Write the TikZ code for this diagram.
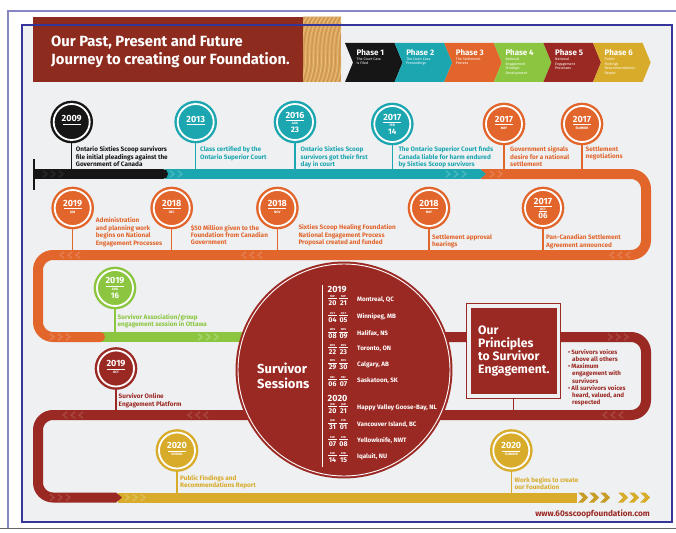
\documentclass[tikz,border=0pt]{standalone}
\usepackage{fontspec}
\setmainfont{Fira Sans}
\usetikzlibrary{calc}

\definecolor{frameblue}{HTML}{34369A}
\definecolor{pagebg}{HTML}{EEF0F2}
\definecolor{bannerred}{HTML}{8C2B1E}
\definecolor{cblack}{HTML}{161616}
\definecolor{cteal}{HTML}{1BA6B0}
\definecolor{corange}{HTML}{E2652B}
\definecolor{cgreen}{HTML}{8CC640}
\definecolor{cred}{HTML}{9B2923}
\definecolor{cgold}{HTML}{D8AB2A}
\definecolor{wood}{HTML}{D9A35B}
\definecolor{woodlight}{HTML}{E9BE7A}
\definecolor{wooddark}{HTML}{C48A45}

\tikzset{
  bar/.style={line width=10pt, rounded corners=15pt},
  ms/.style={circle, fill=#1, draw=#1, line width=2.4pt, double=white,
    double distance=1.8pt, minimum size=36pt, inner sep=0pt},
  stem/.style={draw=#1, line width=1.1pt},
  mtext/.style={anchor=north west, inner sep=0pt, align=left, text=#1,
    font=\bfseries\fontsize{6.4}{7.4}\selectfont},
  yrtext/.style={text=white, inner sep=0pt, font=\bfseries\fontsize{9}{9}\selectfont},
  motext/.style={text=white, inner sep=0pt, font=\bfseries\fontsize{3.3}{4}\selectfont},
  daytext/.style={text=white, inner sep=0pt, font=\bfseries\fontsize{8}{8}\selectfont},
  title/.style={text=white, inner sep=0pt, font=\bfseries\fontsize{14.8}{16}\selectfont},
  phtitle/.style={text=white, inner sep=0pt, font=\bfseries\fontsize{8}{8}\selectfont},
  phsub/.style={text=white, inner sep=0pt, align=left, font=\fontsize{3.6}{4.5}\selectfont},
  smo/.style={text=white, inner sep=0pt, font=\bfseries\fontsize{2.8}{3}\selectfont},
  sday/.style={text=white, inner sep=0pt, font=\bfseries\fontsize{7}{7}\selectfont},
  scity/.style={text=white, inner sep=0pt, font=\bfseries\fontsize{6.3}{6.5}\selectfont},
}

% year only, with underline
\newcommand\yonly[2]{%
  \node[yrtext] (#1-yr) at ($(#1)+(0,-3)$) {#2};
  \draw[white, line width=0.5pt] ($(#1)+(-9,2.3)$) -- ($(#1)+(9,2.3)$);}
% year, rule, month
\newcommand\ymon[3]{%
  \node[yrtext] (#1-yr) at ($(#1)+(0,-4.7)$) {#2};
  \draw[white, line width=0.5pt] ($(#1)+(-9,0.3)$) -- ($(#1)+(9,0.3)$);
  \node[motext] (#1-mo) at ($(#1)+(0,4.3)$) {#3};}
% year, rule, month, day
\newcommand\ymd[4]{%
  \node[yrtext] (#1-yr) at ($(#1)+(0,-7)$) {#2};
  \draw[white, line width=0.5pt] ($(#1)+(-9,-2)$) -- ($(#1)+(9,-2)$);
  \node[motext] (#1-mo) at ($(#1)+(0,1.6)$) {#3};
  \node[daytext] (#1-day) at ($(#1)+(0,7.6)$) {#4};}
% year, rule, month, rule, day
\newcommand\ymdr[4]{%
  \node[yrtext] (#1-yr) at ($(#1)+(0,-7)$) {#2};
  \draw[white, line width=0.5pt] ($(#1)+(-9,-2)$) -- ($(#1)+(9,-2)$);
  \node[motext] (#1-mo) at ($(#1)+(0,1.3)$) {#3};
  \draw[white, line width=0.4pt] ($(#1)+(-4,3.4)$) -- ($(#1)+(4,3.4)$);
  \node[daytext] (#1-day) at ($(#1)+(0,8.2)$) {#4};}
% light chevron inside a bar
\newcommand\chv[4]{\draw[#4, line width=1.6pt] ({#1-2*#3},{#2-3.2}) -- ({#1+2*#3},#2) -- ({#1-2*#3},{#2+3.2});}
% solid chevron at the end of the line
\newcommand\fchev[3]{\fill[#3] (#1,#2-5) -- ++(5,0) -- ++(5,5) -- ++(-5,5) -- ++(-5,0) -- ++(5,-5) -- cycle;}
% one session entry: name, baseline, month1, month2, day1, day2, city
\newcommand\sess[7]{%
  \node[smo] (#1-m1) at (332.5,#2-8.6) {#3};
  \node[smo] (#1-m2) at (343.5,#2-8.6) {#4};
  \draw[white, line width=0.4pt] (328,#2-6.8) -- (337,#2-6.8) (339,#2-6.8) -- (348,#2-6.8);
  \node[sday, anchor=base] (#1-d1) at (332.5,#2) {#5};
  \node[sday, anchor=base] (#1-d2) at (343.5,#2) {#6};
  \node[scity, anchor=base west] (#1-city) at (357,#2-3.5) {#7};}
% phase chevron: index, colour, number, description
\newcommand\phasebox[4]{%
  \pgfmathsetmacro\px{345+49.6*#1}
  \fill[#2] (\px,43) -- ++(49.6,0) -- ++(8,19.5) -- ++(-8,19.5) -- ++(-49.6,0) -- ++(8,-19.5) -- cycle;
  \node[phtitle, anchor=base west] (ph#3) at (\px+11.5,55.5) {Phase #3};
  \node[phsub, anchor=north west] (ph#3-d) at (\px+11.5,57.6) {#4};}

\begin{document}
\begin{tikzpicture}[x=1pt,y=-1pt]
\useasboundingbox (0,0) rectangle (676,532);
\fill[white] (0,0) rectangle (676,532);
\fill[pagebg] (22,25) rectangle (672,521.5);

% ---------- header ----------
\fill[bannerred] (33,17) rectangle (303,82);
\begin{scope}
  \clip (303,17) rectangle (341,82);
  \fill[wood] (303,17) rectangle (341,82);
  \foreach \i in {-6,...,12} {
    \draw[woodlight, line width=0.8pt] ({300+\i*4},84) .. controls ({312+\i*4},62) and ({298+\i*4},40) .. ({316+\i*4},15);
    \draw[wooddark, line width=0.4pt] ({302+\i*4},84) .. controls ({314+\i*4},62) and ({300+\i*4},40) .. ({318+\i*4},15);
  }
\end{scope}
\node[title, anchor=base west] (title1) at (51,46.5) {Our Past, Present and Future};
\node[title, anchor=base west] (title2) at (51,65) {Journey to creating our Foundation.};

% ---------- phases ----------
\phasebox{0}{cblack}{1}{The Court Case\\is Filed}
\phasebox{1}{cteal}{2}{The Court Case\\Proceedings}
\phasebox{2}{corange}{3}{The Settlement\\Process}
\phasebox{3}{cgreen}{4}{National\\Engagement\\Strategic\\Development}
\phasebox{4}{cred}{5}{National\\Engagement\\Processes}
\phasebox{5}{cgold}{6}{Public\\Findings\\Recommendations\\Report}

% ---------- the timeline ----------
\coordinate (r1top) at (0,169);
\coordinate (r2top) at (0,250);
\coordinate (r3top) at (0,332);
\coordinate (r4top) at (0,410);
\coordinate (r5top) at (0,492.5);

\draw[bar, cgold] (118,497.5) -- (577,497.5);
\draw[bar, cred] (250,337) -- (646,337) -- (646,415) -- (38,415) -- (38,497.5) -- (116,497.5);
\fill[cred] (116,492.5) -- (122,497.5) -- (116,502.5) -- cycle;
\draw[bar, cgreen] (100,337) -- (252,337);
\draw[bar, corange] (481,174) -- (646,174) -- (646,255) -- (38,255) -- (38,337) -- (100,337);
\fill[corange] (100,337) circle (5);
\draw[bar, cteal] (165,174) -- (480,174);
\fill[cteal] (480,169) -- (486,174) -- (480,179) -- cycle;
\draw[bar, cblack] (35,174) -- (163,174);
\fill[cblack] (163,174) circle (5);
\draw[cblack, line width=2pt] (33.5,159) -- (33.5,190);

% chevrons along the line
\foreach \x in {45,53,61} {\chv{\x}{174}{1}{black!85!white}}
\foreach \x in {172,180} {\chv{\x}{174}{1}{cteal!82!white}}
\foreach \x in {448,456,464} {\chv{\x}{174}{1}{cteal!82!white}}
\foreach \x in {492,500} {\chv{\x}{174}{1}{corange!85!white}}
\foreach \x in {62,70,78,244,252,260,612,620,628} {\chv{\x}{255}{-1}{corange!85!white}}
\foreach \x in {52,60,68} {\chv{\x}{337}{1}{corange!85!white}}
\foreach \x in {200,208,216} {\chv{\x}{337}{1}{cgreen!78!white}}
\foreach \x in {610,618,626} {\chv{\x}{337}{1}{cred!88!white}}
\foreach \x in {65,73,81,190,198,206,605,613,621} {\chv{\x}{415}{-1}{cred!88!white}}
\foreach \x in {52,60,68} {\chv{\x}{497.5}{1}{cred!88!white}}
\foreach \x in {127,135,143} {\chv{\x}{497.5}{1}{cgold!82!white}}
\foreach \x in {578,589,600} {\fchev{\x}{497.5}{cgold!92!black}}
\foreach \x in {618,629,640} {\fchev{\x}{497.5}{cgold}}

% ---------- row 1 ----------
\draw[stem=cblack] (71.7,143) -- (71.7,169);
\node[ms=cblack] (m2009) at (71.7,122) {};
\yonly{m2009}{2009}
\node[mtext=cblack] (t2009) at (75.7,146.5) {Ontario Sixties Scoop survivors\\file initial pleadings against the\\Government of Canada};

\draw[stem=cteal] (195.7,143) -- (195.7,169);
\node[ms=cteal] (m2013) at (195.7,122) {};
\yonly{m2013}{2013}
\node[mtext=cteal] (t2013) at (200,146.5) {Class certified by the\\Ontario Superior Court};

\draw[stem=cteal] (295,143) -- (295,169);
\node[ms=cteal] (m2016) at (295,122) {};
\ymd{m2016}{2016}{AUG}{23}
\node[mtext=cteal] (t2016) at (300.5,146.5) {Ontario Sixties Scoop\\survivors got their first\\day in court};

\draw[stem=cteal] (392.3,145) -- (392.3,169);
\node[ms=cteal] (m2017a) at (392.3,124) {};
\ymd{m2017a}{2017}{FEB}{14}
\node[mtext=cteal] (t2017a) at (398.3,146.5) {The Ontario Superior Court finds\\Canada liable for harm endured\\by Sixties Scoop survivors};

\draw[stem=corange] (504,145) -- (504,169);
\node[ms=corange] (m2017b) at (504,124) {};
\ymon{m2017b}{2017}{MAY}
\node[mtext=corange] (t2017b) at (510,146.5) {Government signals\\desire for a national\\settlement};

\draw[stem=corange] (582,145) -- (582,169);
\node[ms=corange] (m2017c) at (582,124) {};
\ymon{m2017c}{2017}{SUMMER}
\node[mtext=corange] (t2017c) at (585.5,146.5) {Settlement\\negotiations};

% ---------- row 2 ----------
\draw[stem=corange] (72.7,229) -- (72.7,250);
\node[ms=corange] (m2019a) at (72.7,208) {};
\ymon{m2019a}{2019}{JAN}
\node[mtext=corange] (t2019a) at (95.7,217.5) {Administration\\and planning work\\begins on National\\Engagement Processes};

\draw[stem=corange] (171.7,229) -- (171.7,250);
\node[ms=corange] (m2018a) at (171.7,208) {};
\ymon{m2018a}{2018}{DEC}
\node[mtext=corange] (t2018a) at (190.7,224.5) {\$50 Million given to the\\Foundation from Canadian\\Government};

\draw[stem=corange] (277.4,229) -- (277.4,250);
\node[ms=corange] (m2018b) at (277.4,208) {};
\ymon{m2018b}{2018}{NOV}
\node[mtext=corange] (t2018b) at (298.3,224.5) {Sixties Scoop Healing Foundation\\National Engagement Process\\Proposal created and funded};

\draw[stem=corange] (429,229) -- (429,250);
\node[ms=corange] (m2018c) at (429,208) {};
\ymon{m2018c}{2018}{MAY}
\node[mtext=corange] (t2018c) at (432,234.5) {Settlement approval\\hearings};

\draw[stem=corange] (543,229) -- (543,250);
\node[ms=corange] (m2017d) at (543,208) {};
\ymdr{m2017d}{2017}{OCT}{06}
\node[mtext=corange] (t2017d) at (546,234.5) {Pan-Canadian Settlement\\Agreement announced};

% ---------- row 3 ----------
\draw[stem=cgreen] (115,309) -- (115,332);
\node[ms=cgreen] (m2019b) at (115,288) {};
\ymd{m2019b}{2019}{AUG}{16}
\node[mtext=cgreen] (t2019b) at (117.5,314) {Survivor Association/group\\engagement session in Ottawa};

\draw[stem=cred] (116,389) -- (116,410);
\node[ms=cred] (m2019c) at (116,368.5) {};
\ymon{m2019c}{2019}{OCT}
\node[mtext=cred] (t2019c) at (118.5,393.5) {Survivor Online\\Engagement Platform};

% ---------- survivor sessions ----------
\node[circle, fill=cred, draw=cred, line width=2pt, double=white, double distance=0.9pt,
  minimum size=212pt, inner sep=0pt] (sessions) at (344,370) {};
\node[anchor=north west, inner sep=0pt, align=left, text=white,
  font=\bfseries\fontsize{13}{15}\selectfont] (sesstitle) at (257,362.5) {Survivor\\Sessions};
\draw[white, line width=0.6pt] (322,285) -- (322,467);
\node[yrtext, anchor=base west] (y2019) at (327.5,292.5) {2019};
\sess{s1}{305}{SEP}{SEP}{20}{21}{Montreal, QC}
\sess{s2}{322}{OCT}{OCT}{04}{05}{Winnipeg, MB}
\sess{s3}{338.5}{NOV}{NOV}{08}{09}{Halifax, NS}
\sess{s4}{354}{NOV}{NOV}{22}{23}{Toronto, ON}
\sess{s5}{369.5}{NOV}{NOV}{29}{30}{Calgary, AB}
\sess{s6}{386}{DEC}{DEC}{06}{07}{Saskatoon, SK}
\node[yrtext, anchor=base west] (y2020) at (327.5,401.5) {2020};
\sess{s7}{413}{JAN}{JAN}{20}{21}{Happy Valley Goose-Bay, NL}
\sess{s8}{429.5}{JAN}{FEB}{31}{01}{Vancouver Island, BC}
\sess{s9}{446}{FEB}{FEB}{07}{08}{Yellowknife, NWT}
\sess{s10}{462}{FEB}{FEB}{14}{15}{Iqaluit, NU}

% ---------- principles ----------
\node[draw=cred, fill=pagebg, line width=1.3pt, minimum width=94pt, minimum height=95pt,
  inner sep=0pt] (pbox) at (513.7,350.8) {};
\fill[cred] (471,308.3) rectangle (556.7,394);
\draw[stem=cred] (pbox.south) -- (pbox.south |- r4top);
\node[anchor=north west, inner sep=0pt, align=left, text=white,
  font=\bfseries\fontsize{12.2}{12.8}\selectfont] (ptext) at (478,326) {Our\\Principles\\to Survivor\\Engagement.};
\node[mtext=cred, font=\bfseries\fontsize{6.2}{7.2}\selectfont] (plist) at (568,349) {•\,Survivors voices\\\hspace*{4pt}above all others\\•\,Maximum\\\hspace*{4pt}engagement with\\\hspace*{4pt}survivors\\•\,All survivors voices\\\hspace*{4pt}heard, valued, and\\\hspace*{4pt}respected};

% ---------- row 5 ----------
\draw[stem=cgold] (177,471) -- (177,492.5);
\node[ms=cgold] (m2020a) at (177,450.5) {};
\ymon{m2020a}{2020}{SPRING}
\node[mtext=cgold] (t2020a) at (180,475) {Public Findings and\\Recommendations Report};

\draw[stem=cgold] (511.3,471) -- (511.3,492.5);
\node[ms=cgold] (m2020b) at (511.3,450.5) {};
\ymon{m2020b}{2020}{SUMMER}
\node[mtext=cgold] (t2020b) at (514.5,477) {Work begins to create\\our Foundation};

\node[anchor=base east, inner sep=0pt, text=cred, font=\bfseries\fontsize{8.2}{9}\selectfont]
  (web) at (650,516) {www.60sscoopfoundation.com};

% ---------- frames ----------
\draw[frameblue!60!white, line width=1.2pt] (8,528) -- (8,11) -- (676,11);
\draw[black!60, line width=1.5pt] (0,528.5) -- (676,528.5);
\draw[frameblue, line width=2pt] (22,25) rectangle (672,521.5);
\end{tikzpicture}
\end{document}
